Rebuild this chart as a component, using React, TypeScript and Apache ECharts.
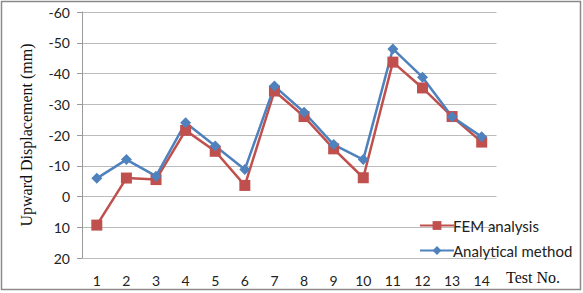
import React, { useEffect, useRef } from "react";
import * as echarts from "echarts";

const categories = ["1", "2", "3", "4", "5", "6", "7", "8", "9", "10", "11", "12", "13", "14"];
const femValues = [9.3, -6, -5.5, -21.5, -14.7, -3.6, -34.3, -26, -15.5, -6.1, -43.7, -35.3, -26, -17.7];
const analyticalValues = [-5.9, -12, -6.6, -24, -16.4, -8.8, -35.9, -27.4, -16.9, -12, -48, -38.8, -25.9, -19.4];
const seriesNames = ["FEM analysis", "Analytical method"];
const yAxisTitle = "Upward Displacement (mm)";
const xAxisTitle = "Test No.";

export default function App() {
  const ref = useRef<HTMLDivElement>(null);
  useEffect(() => {
    document.body.style.margin = "0";
    if (!ref.current) return;
    const chart = echarts.init(ref.current, null, { renderer: "svg" });
    const sans = "Lato, 'Open Sans', sans-serif";
    const serif = "'Liberation Serif', 'DejaVu Serif', serif";
    chart.setOption({
      animation: false,
      backgroundColor: "#ffffff",
      grid: { left: 82, right: 86.5, top: 12, bottom: 35, outerBoundsMode: "none", containLabel: false },
      xAxis: {
        type: "category",
        data: categories,
        boundaryGap: true,
        axisLine: { show: false },
        axisTick: { show: false },
        axisLabel: { margin: 15, color: "#222", fontFamily: sans, fontSize: 14 },
        splitLine: { show: false },
      },
      yAxis: {
        type: "value",
        inverse: true,
        min: -60,
        max: 20,
        interval: 10,
        name: yAxisTitle,
        nameLocation: "middle",
        nameRotate: 90,
        nameGap: 48,
        nameTextStyle: { fontFamily: serif, fontSize: 16, color: "#111" },
        axisLine: { show: true, lineStyle: { color: "#9a9a9a", width: 1 } },
        axisTick: { show: true, length: 5, lineStyle: { color: "#9a9a9a" } },
        axisLabel: { margin: 12, color: "#222", fontFamily: sans, fontSize: 14 },
        splitLine: { show: true, lineStyle: { color: "#bcbcbc", width: 1.2 } },
      },
      legend: {
        orient: "vertical",
        left: 414,
        top: 213,
        itemWidth: 34,
        itemHeight: 11,
        itemGap: 10,
        textStyle: { fontFamily: sans, fontSize: 15, color: "#222", padding: [0, 0, 0, -6] },
        data: seriesNames,
      },
      series: [
        {
          name: seriesNames[0],
          type: "line",
          data: femValues,
          symbol: "rect",
          symbolSize: 11,
          lineStyle: { color: "#C0504D", width: 2.5 },
          itemStyle: { color: "#C0504D" },
        },
        {
          name: seriesNames[1],
          type: "line",
          data: analyticalValues,
          symbol: "diamond",
          symbolSize: 11,
          lineStyle: { color: "#4F81BD", width: 2.5 },
          itemStyle: { color: "#4F81BD" },
        },
      ],
      graphic: [
        {
          type: "rect",
          shape: { x: 1.5, y: 1.5, width: 579, height: 288 },
          style: { fill: "none", stroke: "#8a8a8a", lineWidth: 1.5 },
          silent: true,
        },
        {
          type: "text",
          x: 506,
          y: 277,
          style: {
            text: xAxisTitle,
            font: `16px ${serif}`,
            fill: "#111",
            textVerticalAlign: "middle",
            textAlign: "left",
          },
        },
      ],
    });
    return () => chart.dispose();
  }, []);
  return <div ref={ref} style={{ width: 583, height: 293 }} />;
}
